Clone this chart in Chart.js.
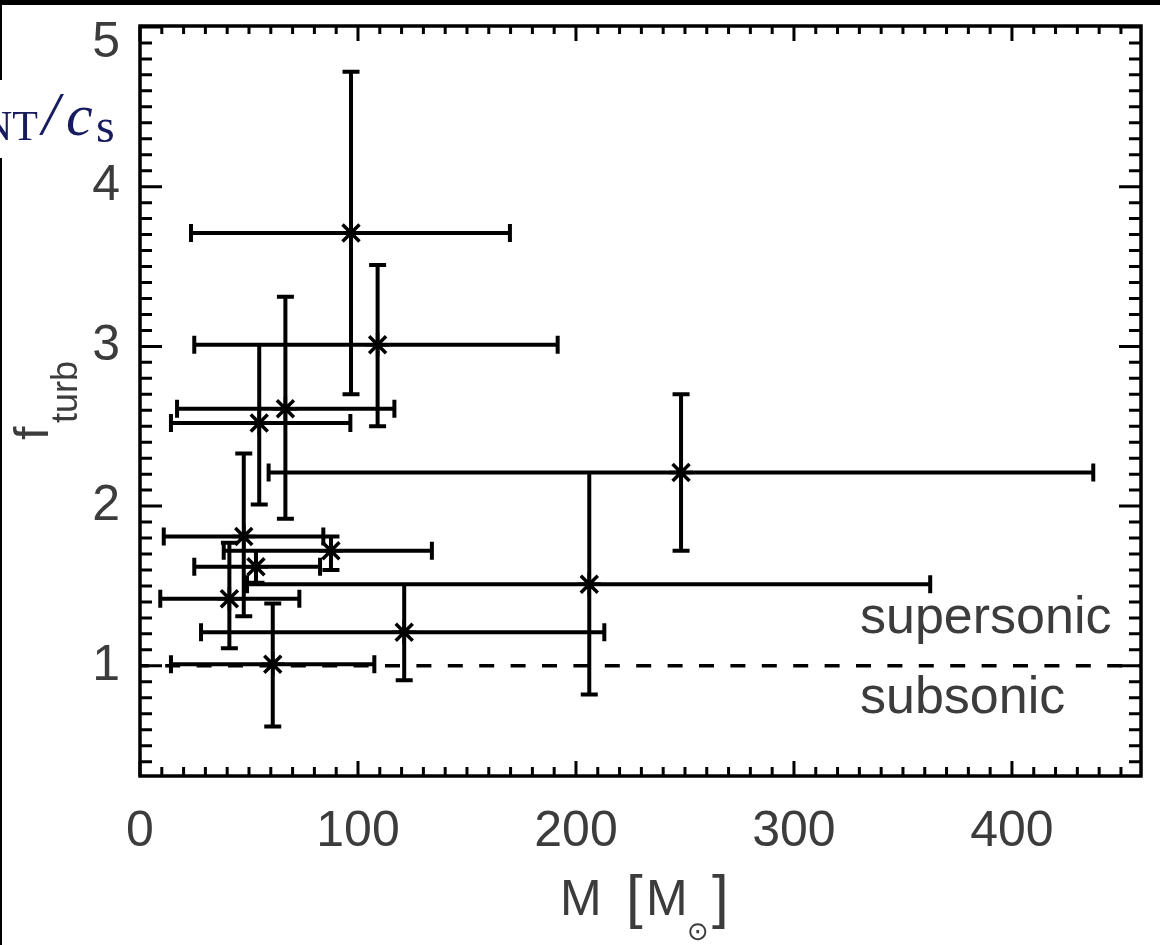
<!DOCTYPE html>
<html>
<head>
<meta charset="utf-8">
<script src="https://cdn.jsdelivr.net/npm/chart.js@4"></script>
<style>
  html, body { margin: 0; padding: 0; background: #fff; }
  #wrap { position: absolute; left: 0; top: 0; width: 1160px; height: 945px; }
</style>
</head>
<body>
<div id="wrap"><canvas id="c"></canvas></div>
<script>
// clump masses (Msun) and turbulence ratio, with error bar ends
const massVals  = [96.8, 109.0, 66.7, 54.7, 248.2, 47.6, 87.6, 53.2, 206.1, 41.0, 121.2, 60.9];
const fturbVals = [3.71, 3.01, 2.61, 2.52, 2.21, 1.81, 1.72, 1.62, 1.51, 1.42, 1.21, 1.01];
const massLow   = [23.4, 24.9, 17.0, 14.2, 59.0, 10.9, 38.4, 24.9, 49.1, 9.3, 28.0, 14.2];
const massHigh  = [169.7, 191.6, 116.7, 96.5, 437.3, 84.1, 133.9, 82.6, 362.5, 73.1, 213.0, 107.5];
const fturbLow  = [2.70, 2.50, 1.92, 2.01, 1.72, 1.31, 1.60, 1.52, 0.82, 1.11, 0.91, 0.62];
const fturbHigh = [4.72, 3.51, 3.31, 3.01, 2.70, 2.33, 1.81, 1.72, 2.21, 1.77, 1.51, 1.39];

// sonic boundary
const boundaryX = [0, 459.2];
const boundaryF = 1;

const xTickVals = [0, 100, 200, 300, 400];
const yTickVals = [1, 2, 3, 4, 5];

const FONT = 'Liberation Sans';
const TXT = '#3c3c3c';

// error bars, drawn under the star markers
const errorBars = {
  id: 'errorBars',
  beforeDatasetsDraw(chart) {
    const {ctx, scales: {x, y}} = chart;
    ctx.save();
    ctx.strokeStyle = '#000';
    ctx.lineWidth = 4;
    ctx.beginPath();
    for (let i = 0; i < massVals.length; i++) {
      const px = x.getPixelForValue(massVals[i]);
      const py = y.getPixelForValue(fturbVals[i]);
      const xl = x.getPixelForValue(massLow[i]);
      const xr = x.getPixelForValue(massHigh[i]);
      const yt = y.getPixelForValue(fturbHigh[i]);
      const yb = y.getPixelForValue(fturbLow[i]);
      ctx.moveTo(xl, py); ctx.lineTo(xr, py);
      ctx.moveTo(xl, py - 9); ctx.lineTo(xl, py + 9);
      ctx.moveTo(xr, py - 9); ctx.lineTo(xr, py + 9);
      ctx.moveTo(px, yt); ctx.lineTo(px, yb);
      ctx.moveTo(px - 8.5, yt); ctx.lineTo(px + 8.5, yt);
      ctx.moveTo(px - 8.5, yb); ctx.lineTo(px + 8.5, yb);
    }
    ctx.stroke();
    ctx.restore();
  }
};

// IDL style box with inward ticks, plus the extra labels
const frameAndText = {
  id: 'frameAndText',
  afterDraw(chart) {
    const {ctx, chartArea: a, scales: {x, y}} = chart;
    ctx.save();
    ctx.strokeStyle = '#000';
    ctx.lineWidth = 3.5;
    ctx.strokeRect(a.left, a.top, a.right - a.left, a.bottom - a.top);
    ctx.lineWidth = 3;
    ctx.beginPath();
    for (let v = 0; v <= x.max; v += 10) {
      const px = x.getPixelForValue(v);
      const major = v % 100 === 0;
      ctx.moveTo(px, a.bottom); ctx.lineTo(px, a.bottom - (major ? 15 : 9));
      ctx.moveTo(px, a.top); ctx.lineTo(px, a.top + (major ? 15 : 8));
    }
    for (let i = 4; i <= 50; i++) {
      const py = y.getPixelForValue(i / 10);
      const len = i % 10 === 0 ? 22 : 12;
      ctx.moveTo(a.left, py); ctx.lineTo(a.left + len, py);
      ctx.moveTo(a.right, py); ctx.lineTo(a.right - len, py);
    }
    ctx.stroke();

    // screenshot borders
    ctx.fillStyle = '#000';
    ctx.fillRect(0, 0, 1160, 5);
    ctx.fillRect(0, 0, 2, 80);
    ctx.fillRect(0, 158, 2, 787);

    ctx.fillStyle = TXT;
    ctx.textBaseline = 'alphabetic';
    ctx.textAlign = 'left';

    // y title
    ctx.save();
    ctx.rotate(-Math.PI / 2);
    ctx.font = '48px "' + FONT + '"';
    ctx.fillText('f', -440, 48);
    ctx.font = '36px "' + FONT + '"';
    ctx.fillText('turb', -423, 77);
    ctx.restore();

    // x title
    ctx.font = '50px "' + FONT + '"';
    ctx.fillText('M', 560, 915);
    ctx.fillText('M', 646, 915);
    ctx.font = '60px "' + FONT + '"';
    ctx.fillText('[', 626, 917);
    ctx.fillText(']', 712, 917);
    ctx.font = '26px "DejaVu Sans"';
    ctx.fillText('\u2299', 687, 940);

    // regime labels
    ctx.font = '52px "' + FONT + '"';
    ctx.fillText('supersonic', 860, 633);
    ctx.fillText('subsonic', 860, 713);

    // clipped neighbour label at the left edge
    ctx.fillStyle = '#161c5e';
    ctx.font = '42px "Liberation Serif"';
    ctx.fillText('NT', -18, 140);
    ctx.font = 'italic 62px "Liberation Serif"';
    ctx.fillText('/', 42, 134);
    ctx.font = 'italic 60px "Liberation Serif"';
    ctx.fillText('c', 66, 135);
    ctx.font = '48px "Liberation Serif"';
    ctx.fillText('s', 96, 142);
    ctx.restore();
  }
};

new Chart(document.getElementById('c'), {
  type: 'scatter',
  data: {
    datasets: [{
      label: 'clumps',
      data: massVals.map((m, i) => ({x: m, y: fturbVals[i]})),
      pointStyle: 'star',
      pointRadius: 12,
      pointBorderWidth: 3.5,
      borderColor: '#000',
      backgroundColor: '#000'
    }, {
      type: 'line',
      label: 'sonic',
      data: boundaryX.map(v => ({x: v, y: boundaryF})),
      borderColor: '#000',
      borderWidth: 3.5,
      borderDash: [15, 16.4],
      borderDashOffset: 6.2,
      pointRadius: 0,
      fill: false
    }]
  },
  options: {
    responsive: true,
    maintainAspectRatio: false,
    animation: false,
    layout: { padding: { top: 26, right: 19, left: 0, bottom: 0 } },
    plugins: { legend: { display: false }, tooltip: { enabled: false } },
    scales: {
      x: {
        type: 'linear',
        position: 'bottom',
        min: 0,
        max: 459.2,
        grid: { display: false, drawTicks: false },
        border: { display: false },
        ticks: {
          color: TXT,
          font: { family: FONT, size: 50 },
          padding: 26,
          maxRotation: 0,
          autoSkip: false
        },
        afterBuildTicks: s => { s.ticks = xTickVals.map(v => ({value: v})); },
        afterFit: s => { s.height = 169; s.paddingLeft = 0; s.paddingRight = 0; }
      },
      y: {
        type: 'linear',
        position: 'left',
        min: 0.31,
        max: 5.006,
        grid: { display: false, drawTicks: false },
        border: { display: false },
        ticks: {
          color: TXT,
          padding: 20,
          font: ctx => (ctx.tick && ctx.tick.value === 5)
            ? { family: FONT, size: 50, lineHeight: '32px' }
            : { family: FONT, size: 50 },
          callback: v => v === 5 ? ['', '5'] : String(v)
        },
        afterBuildTicks: s => { s.ticks = yTickVals.map(v => ({value: v})); },
        afterFit: s => { s.width = 140; s.paddingTop = 0; s.paddingBottom = 0; }
      }
    }
  },
  plugins: [errorBars, frameAndText]
});
</script>
</body>
</html>
